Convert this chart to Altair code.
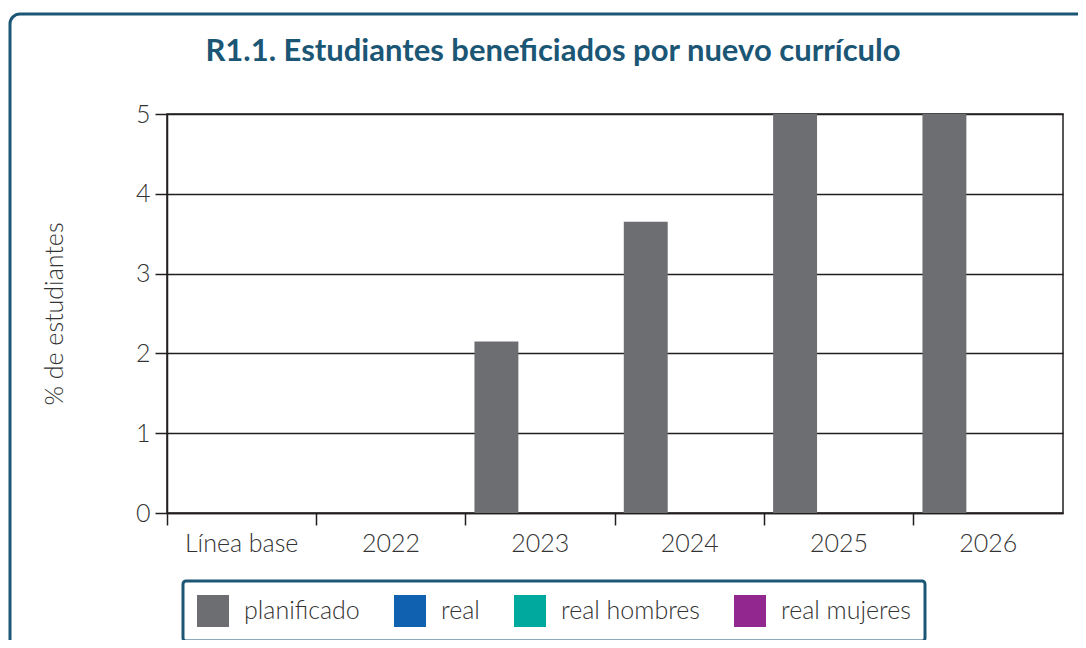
import altair as alt
import pandas as pd

categorias = ["Línea base", "2022", "2023", "2024", "2025", "2026"]
planificado = [None, None, 2.15, 3.65, 5, 5]
series = ["planificado", "real", "real hombres", "real mujeres"]
colores = ["#6d6e71", "#1062b0", "#00a99d", "#92278f"]
y_ticks = [0, 1, 2, 3, 4, 5]

df = pd.DataFrame({
    "categoria": categorias,
    "valor": planificado,
    "serie": ["planificado"] * len(categorias),
})

FONT = "Lato"
BLUE = "#1b5675"
W, H = 896, 399

frame = alt.Chart(pd.DataFrame({"a": [0]})).mark_rect(
    fill=None, stroke=BLUE, strokeWidth=3, cornerRadius=10, clip=False
).encode(
    x=alt.value(-157), x2=alt.value(940), y=alt.value(-100), y2=alt.value(560)
)

bars = alt.Chart(df).mark_bar().encode(
    x=alt.X("categoria:N", sort=categorias, title=None,
            scale=alt.Scale(paddingInner=0, paddingOuter=0),
            axis=alt.Axis(labelAngle=0, bandPosition=0, tickSize=12, tickWidth=1.5,
                          tickColor="#231f20", domainColor="#231f20", domainWidth=1.5,
                          labelFontSize=25, labelFont=FONT, labelFontWeight=300,
                          labelColor="#333333", labelPadding=6, labelAlign="center",
                          labelBound=False, labelOverlap=False, grid=False)),
    xOffset=alt.XOffset("serie:N", scale=alt.Scale(domain=series[:3], paddingInner=0, paddingOuter=0.2)),
    y=alt.Y("valor:Q", title="% de estudiantes",
            scale=alt.Scale(domain=[0, 5], nice=False),
            axis=alt.Axis(values=y_ticks, tickSize=12, tickWidth=1.5, tickColor="#231f20",
                          domainColor="#231f20", domainWidth=1.5,
                          gridColor="#231f20", gridWidth=1.5,
                          labelFontSize=25, labelFont=FONT, labelFontWeight=300,
                          labelColor="#333333", labelPadding=5,
                          titleFont=FONT, titleFontSize=25, titleFontWeight=300,
                          titleColor="#333333", titlePadding=68)),
    color=alt.Color("serie:N", scale=alt.Scale(domain=series, range=colores),
                    legend=alt.Legend(title=None, orient="none", legendX=16, legendY=467,
                                      direction="horizontal", symbolType="square",
                                      symbolSize=1024, symbolStrokeWidth=0, symbolOpacity=1,
                                      labelFontSize=25, labelFont=FONT, labelFontWeight=300,
                                      labelColor="#333333", labelOffset=15, columnPadding=34,
                                      labelLimit=400, padding=14, strokeColor=BLUE,
                                      cornerRadius=3, fillColor="white")),
)

chart = alt.layer(frame, bars).properties(
    width=W, height=H,
    padding={"left": 159, "top": 106, "right": 15, "bottom": 127},
    autosize=alt.AutoSizeParams(type="none"),
    title=alt.TitleParams("R1.1. Estudiantes beneficiados por nuevo currículo",
                          font=FONT, fontSize=31, fontWeight="bold", color=BLUE,
                          anchor="middle", frame="group", dx=-62, dy=95, offset=40),
).configure_view(stroke="#231f20", strokeWidth=1.5).configure_legend(strokeWidth=3)

chart.save("out.html", embed_options={"renderer": "svg", "actions": False})
